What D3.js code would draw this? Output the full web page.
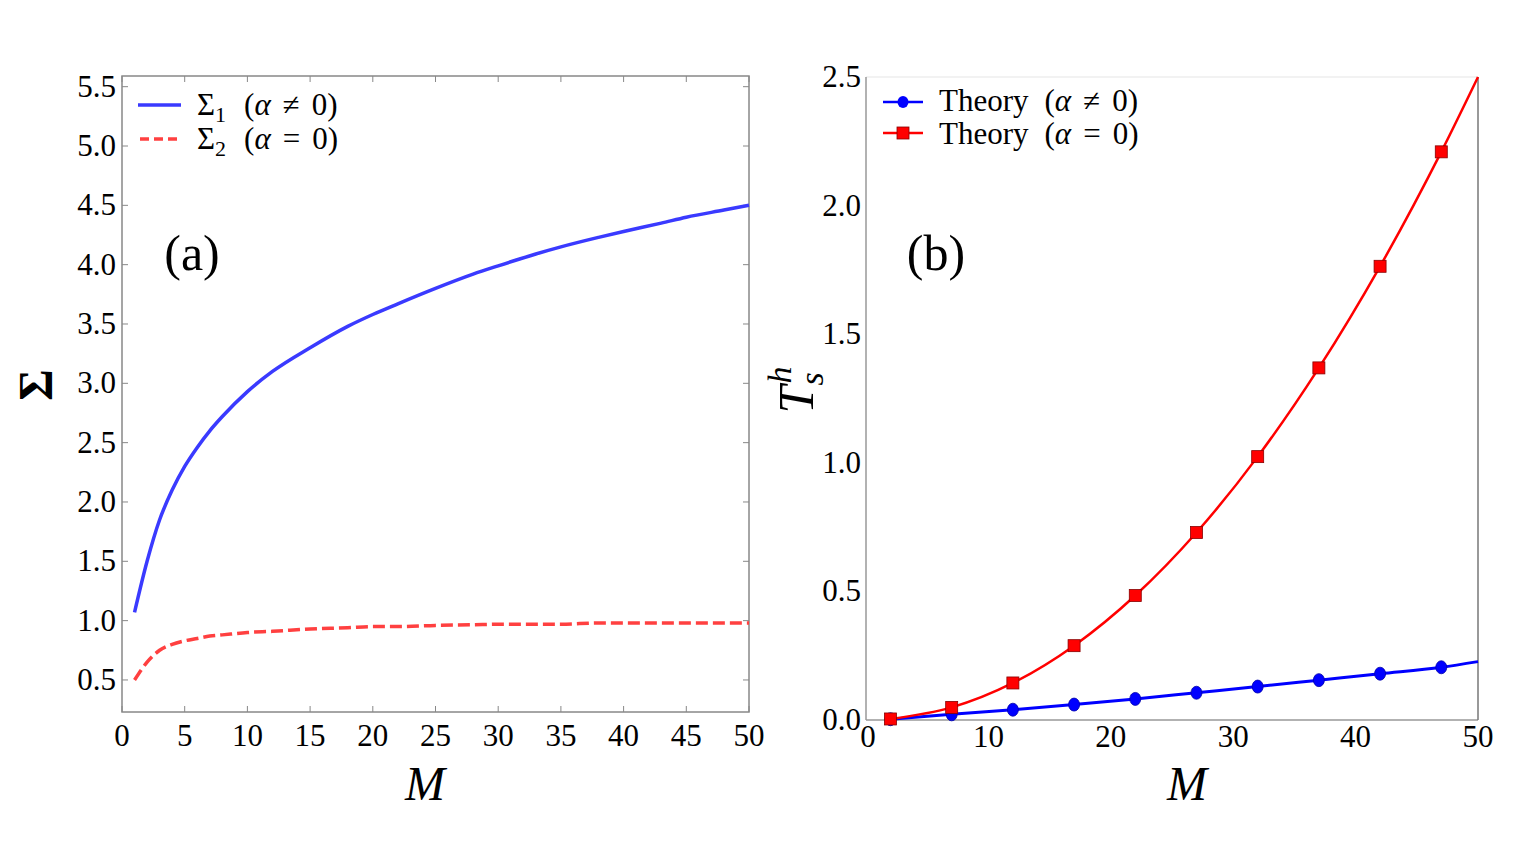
<!DOCTYPE html>
<html>
<head>
<meta charset="utf-8">
<script src="https://cdn.jsdelivr.net/npm/d3@7"></script>
<style>
body { margin: 0; background: #fff; }
text { font-family: "Liberation Serif", "DejaVu Serif", serif; }
</style>
</head>
<body>
<script>
var w = 1520;
var h = 855;

// panel (a) data
var mA = [1, 2, 3, 4, 5, 6, 7, 8, 10, 12, 15, 18, 20, 22, 25, 28, 30, 33, 35, 38, 40, 43, 45, 48, 50];
var sigma1 = [1.07, 1.5, 1.85, 2.1, 2.3, 2.46, 2.6, 2.72, 2.93, 3.1, 3.3, 3.48, 3.58, 3.67, 3.8, 3.92, 3.99, 4.09, 4.15, 4.23, 4.28, 4.35, 4.4, 4.46, 4.5];
var sigma2 = [0.5, 0.65, 0.75, 0.8, 0.83, 0.85, 0.87, 0.88, 0.9, 0.91, 0.93, 0.94, 0.95, 0.95, 0.96, 0.965, 0.97, 0.97, 0.97, 0.98, 0.98, 0.98, 0.98, 0.98, 0.98];
var ticksAx = [0, 5, 10, 15, 20, 25, 30, 35, 40, 45, 50];
var ticksAy = [0.5, 1.0, 1.5, 2.0, 2.5, 3.0, 3.5, 4.0, 4.5, 5.0, 5.5];

// panel (b) data
var mB = [2, 7, 12, 17, 22, 27, 32, 37, 42, 47];
var theoryAlpha = [0.003, 0.022, 0.04, 0.06, 0.082, 0.106, 0.13, 0.155, 0.18, 0.205];
var theoryZero = [0.004, 0.049, 0.144, 0.289, 0.484, 0.729, 1.024, 1.369, 1.764, 2.209];
var lineEndM = 50;
var lineEndAlpha = 0.227;
var lineEndZero = 2.5;
var ticksBx = [0, 10, 20, 30, 40, 50];
var ticksBy = [0.0, 0.5, 1.0, 1.5, 2.0, 2.5];

var svg = d3.select("body").append("svg")
    .attr("width", w)
    .attr("height", h);

// legend label built from tspans: prefix, optional subscript, then (α op 0)
function legendText(g, x, y, lead, sub, op) {
  var t = g.append("text").attr("x", x).attr("y", y).style("font-size", "31px");
  t.append("tspan").text(lead);
  if (sub) {
    t.append("tspan").attr("dy", 7).style("font-size", "22px").text(sub);
    t.append("tspan").attr("dy", -7).attr("dx", 18).text("(");
  } else {
    t.append("tspan").attr("dx", 16).text("(");
  }
  t.append("tspan").style("font-style", "italic").text("α");
  t.append("tspan").attr("dx", 12).text(op);
  t.append("tspan").attr("dx", 12).text("0)");
  return t;
}

// ---------- panel (a) ----------
var ax = {l: 122, r: 749, t: 76, b: 712};
var xA = d3.scaleLinear().domain([0, 50]).range([ax.l, ax.r]);
var yA = d3.scaleLinear().domain([0.23, 5.59]).range([ax.b, ax.t]);

var gA = svg.append("g");
gA.append("rect")
    .attr("x", ax.l).attr("y", ax.t)
    .attr("width", ax.r - ax.l).attr("height", ax.b - ax.t)
    .attr("fill", "none").attr("stroke", "#888").attr("stroke-width", 1.5);

// inward ticks all round
ticksAx.forEach(function(d) {
  gA.append("line").attr("x1", xA(d)).attr("x2", xA(d)).attr("y1", ax.b).attr("y2", ax.b - 6).attr("stroke", "#888");
  gA.append("line").attr("x1", xA(d)).attr("x2", xA(d)).attr("y1", ax.t).attr("y2", ax.t + 6).attr("stroke", "#888");
  gA.append("text").attr("x", xA(d)).attr("y", ax.b + 34)
    .attr("text-anchor", "middle").style("font-size", "31px").text(d);
});
ticksAy.forEach(function(d) {
  gA.append("line").attr("y1", yA(d)).attr("y2", yA(d)).attr("x1", ax.l).attr("x2", ax.l + 6).attr("stroke", "#888");
  gA.append("line").attr("y1", yA(d)).attr("y2", yA(d)).attr("x1", ax.r).attr("x2", ax.r - 6).attr("stroke", "#888");
  gA.append("text").attr("x", ax.l - 6).attr("y", yA(d) + 10)
    .attr("text-anchor", "end").style("font-size", "31px").text(d.toFixed(1));
});

var lineA = d3.line().curve(d3.curveMonotoneX)
    .x(function(d, i) { return xA(mA[i]); })
    .y(function(d) { return yA(d); });

gA.append("path").attr("d", lineA(sigma1))
    .attr("fill", "none").attr("stroke", "#3a3aff").attr("stroke-width", 3.5);
gA.append("path").attr("d", lineA(sigma2))
    .attr("fill", "none").attr("stroke", "#ff4040").attr("stroke-width", 3.5)
    .attr("stroke-dasharray", "12,5");

// legend (a)
gA.append("line").attr("x1", 138).attr("x2", 181).attr("y1", 105).attr("y2", 105)
    .attr("stroke", "#3a3aff").attr("stroke-width", 3.5);
gA.append("line").attr("x1", 140).attr("x2", 181).attr("y1", 139).attr("y2", 139)
    .attr("stroke", "#ff4040").attr("stroke-width", 3.5).attr("stroke-dasharray", "9,5");
legendText(gA, 197, 115, "Σ", "1", "≠");
legendText(gA, 197, 149, "Σ", "2", "=");

gA.append("text").attr("x", 192).attr("y", 270).attr("text-anchor", "middle")
    .style("font-size", "50px").text("(a)");
gA.append("text").attr("x", 425).attr("y", 800).attr("text-anchor", "middle")
    .style("font-size", "48px").style("font-style", "italic").text("M");
gA.append("text").attr("transform", "translate(52,385)rotate(-90)")
    .attr("text-anchor", "middle").style("font-size", "48px").style("font-weight", "bold").text("Σ");

// ---------- panel (b) ----------
var bx = {l: 866, r: 1478, t: 77, b: 720};
var xB = d3.scaleLinear().domain([0, 50]).range([bx.l, bx.r]);
var yB = d3.scaleLinear().domain([0, 2.5]).range([bx.b, bx.t]);

var gB = svg.append("g");
gB.append("line").attr("x1", bx.l).attr("x2", bx.r).attr("y1", bx.t).attr("y2", bx.t)
    .attr("stroke", "#eee").attr("stroke-width", 1.5);
gB.append("line").attr("x1", bx.l).attr("x2", bx.l).attr("y1", bx.t).attr("y2", bx.b)
    .attr("stroke", "#999").attr("stroke-width", 1.5);
gB.append("line").attr("x1", bx.l).attr("x2", bx.r).attr("y1", bx.b).attr("y2", bx.b)
    .attr("stroke", "#999").attr("stroke-width", 1.5);
gB.append("line").attr("x1", bx.r).attr("x2", bx.r).attr("y1", bx.t).attr("y2", bx.b)
    .attr("stroke", "#777").attr("stroke-width", 1.5);

ticksBx.forEach(function(d) {
  gB.append("text").attr("x", xB(d) + (d === 0 ? 2 : 0)).attr("y", bx.b + 27)
    .attr("text-anchor", "middle").style("font-size", "31px").text(d);
});
ticksBy.forEach(function(d) {
  gB.append("text").attr("x", bx.l - 5).attr("y", yB(d) + 10)
    .attr("text-anchor", "end").style("font-size", "31px").text(d.toFixed(1));
});

var lineB = d3.line().curve(d3.curveMonotoneX)
    .x(function(d) { return xB(d[0]); })
    .y(function(d) { return yB(d[1]); });

var ptsAlpha = mB.map(function(m, i) { return [m, theoryAlpha[i]]; });
var ptsZero = mB.map(function(m, i) { return [m, theoryZero[i]]; });

gB.append("path").attr("d", lineB(ptsAlpha.concat([[lineEndM, lineEndAlpha]])))
    .attr("fill", "none").attr("stroke", "#0000ff").attr("stroke-width", 3);
gB.append("path").attr("d", lineB(ptsZero.concat([[lineEndM, lineEndZero]])))
    .attr("fill", "none").attr("stroke", "#ff0000").attr("stroke-width", 2.5);

gB.selectAll(".dot").data(ptsAlpha).enter().append("ellipse")
    .attr("cx", function(d) { return xB(d[0]); })
    .attr("cy", function(d) { return yB(d[1]); })
    .attr("rx", 5.5).attr("ry", 6.5)
    .attr("fill", "#0000ff").attr("stroke", "#0000aa").attr("stroke-width", 0.8);
gB.selectAll(".sq").data(ptsZero).enter().append("rect")
    .attr("x", function(d) { return xB(d[0]) - 6; })
    .attr("y", function(d) { return yB(d[1]) - 6; })
    .attr("width", 12).attr("height", 12)
    .attr("fill", "#ff0000").attr("stroke", "#880000").attr("stroke-width", 0.8);

// legend (b)
gB.append("line").attr("x1", 883).attr("x2", 923).attr("y1", 102).attr("y2", 102)
    .attr("stroke", "#0000ff").attr("stroke-width", 2.5);
gB.append("ellipse").attr("cx", 903).attr("cy", 102).attr("rx", 5.5).attr("ry", 6)
    .attr("fill", "#0000ff");
gB.append("line").attr("x1", 883).attr("x2", 923).attr("y1", 133).attr("y2", 133)
    .attr("stroke", "#ff0000").attr("stroke-width", 2.5);
gB.append("rect").attr("x", 897).attr("y", 127).attr("width", 12).attr("height", 12)
    .attr("fill", "#ff0000").attr("stroke", "#880000").attr("stroke-width", 0.8);
legendText(gB, 939, 111, "Theory", null, "≠");
legendText(gB, 939, 144, "Theory", null, "=");

gB.append("text").attr("x", 936).attr("y", 270).attr("text-anchor", "middle")
    .style("font-size", "50px").text("(b)");
gB.append("text").attr("x", 1187).attr("y", 800).attr("text-anchor", "middle")
    .style("font-size", "48px").style("font-style", "italic").text("M");
var yl = gB.append("text").attr("transform", "translate(813,390)rotate(-90)")
    .attr("text-anchor", "middle").style("font-size", "50px").style("font-style", "italic");
yl.append("tspan").text("T");
yl.append("tspan").attr("dy", -22).attr("dx", 2).style("font-size", "34px").text("h");
yl.append("tspan").attr("dy", 32).attr("dx", -19).style("font-size", "34px").text("s");
</script>
</body>
</html>
